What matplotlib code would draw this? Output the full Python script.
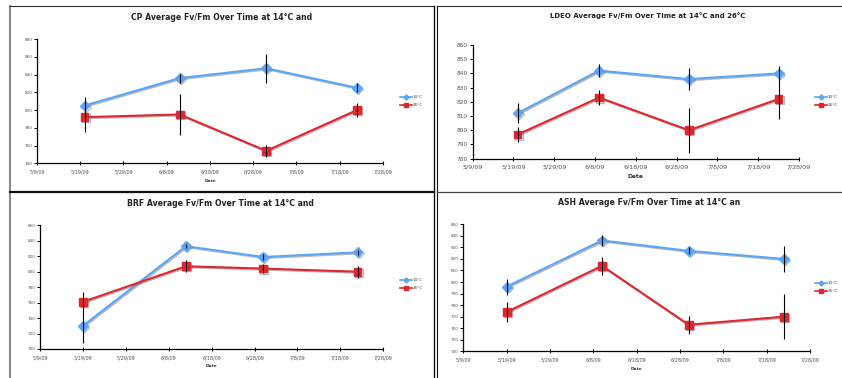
#!/usr/bin/env python3
"""Four Excel-style panels: average Fv/Fm over time at 14°C and 26°C."""

from datetime import datetime

import matplotlib
matplotlib.use("Agg")
import matplotlib.pyplot as plt
import matplotlib.dates as mdates
import matplotlib.patheffects as pe
from matplotlib.lines import Line2D
from matplotlib.ticker import FuncFormatter, FixedLocator, MultipleLocator

W, H = 842, 378

BLUE = "#5aa6f6"
RED = "#e0262e"

TICK_DATES = ["2009-05-09", "2009-05-19", "2009-05-29", "2009-06-08", "2009-06-18",
              "2009-06-28", "2009-07-08", "2009-07-18", "2009-07-28"]

# CP
CP_DATES = ["2009-05-20", "2009-06-11", "2009-07-01", "2009-07-22"]
CP_14 = [805, 836, 847, 825]
CP_14_ERR = [10, 5, 16, 5]
CP_26 = [792, 795, 754, 800]
CP_26_ERR = [17, 23, 7, 8]

# LDEO
LDEO_DATES = ["2009-05-20", "2009-06-09", "2009-07-01", "2009-07-23"]
LDEO_14 = [812, 842, 836, 840]
LDEO_14_ERR = [7, 4.5, 8, 5]
LDEO_26 = [797, 823, 800, 822]
LDEO_26_ERR = [5, 5, 16, 14]

# BRF
BRF_DATES = ["2009-05-19", "2009-06-12", "2009-06-30", "2009-07-22"]
BRF_14 = [730, 833, 819, 825]
BRF_14_ERR = [22, 3, 4, 3]
BRF_26 = [761, 807, 804, 800]
BRF_26_ERR = [13, 8, 6, 8]

# ASH
ASH_DATES = ["2009-05-19", "2009-06-10", "2009-06-30", "2009-07-22"]
ASH_14 = [796, 836, 827, 820]
ASH_14_ERR = [7, 4.5, 3, 11]
ASH_26 = [774, 814, 763, 770]
ASH_26_ERR = [9, 7.5, 8, 19.5]


def _d(s):
    return datetime.fromisoformat(s)


def _rect(left, right, top, bottom):
    return [left / W, 1 - bottom / H, (right - left) / W, (bottom - top) / H]


def _fig_line(fig, xs, ys, color, lw):
    fig.add_artist(Line2D([x / W for x in xs], [1 - y / H for y in ys],
                          transform=fig.transFigure, color=color, linewidth=lw))


def draw_panel(fig, box, title, title_xy, title_size, dates, v14, e14, v26, e26,
               ylim, ystep, small, legend_xy):
    ax = fig.add_axes(_rect(*box))
    tick_fs = 4.2 if not small else 3.0
    date_fs = 4.6 if not small else 3.5
    xs = [_d(s) for s in dates]
    shadow = [pe.SimpleLineShadow(offset=(0.8, -0.8), shadow_color="#777777", alpha=0.5),
              pe.Normal()]

    ax.errorbar(xs, v14, yerr=e14, fmt="none", ecolor="black", elinewidth=0.8,
                capsize=0, zorder=3)
    ax.errorbar(xs, v26, yerr=e26, fmt="none", ecolor="black", elinewidth=0.8,
                capsize=0, zorder=3)
    ax.plot(xs, v14, color=BLUE, linewidth=1.5, marker="D", markersize=5.0,
            markeredgecolor=BLUE, path_effects=shadow, zorder=2, label="14°C")
    ax.plot(xs, v26, color=RED, linewidth=1.5, marker="s", markersize=5.6,
            markeredgecolor=RED, path_effects=shadow, zorder=2, label="26°C")

    ax.set_xlim(_d(TICK_DATES[0]), _d(TICK_DATES[-1]))
    ax.set_ylim(*ylim)
    ax.xaxis.set_major_locator(FixedLocator([mdates.date2num(_d(s)) for s in TICK_DATES]))
    ax.xaxis.set_major_formatter(FuncFormatter(
        lambda v, _: (lambda d: f"{d.month}/{d.day}/{d:%y}")(mdates.num2date(v))))
    ax.yaxis.set_major_locator(MultipleLocator(ystep))

    for side in ("top", "right"):
        ax.spines[side].set_visible(False)
    for side in ("left", "bottom"):
        ax.spines[side].set_linewidth(0.9)
    ax.tick_params(axis="y", direction="out", length=2, width=0.7, pad=1.5,
                   labelsize=tick_fs, labelcolor="#555555")
    ax.tick_params(axis="x", direction="inout", length=3, width=0.7, pad=3,
                   labelsize=date_fs, labelcolor="#555555")
    ax.set_xlabel("Date", fontsize=date_fs - 0.3, fontweight="bold",
                  color="#333333", labelpad=3)

    fig.text(title_xy[0] / W, 1 - title_xy[1] / H, title, fontsize=title_size,
             fontweight="bold", color="#222222", ha="center", va="center")

    # small legend to the right of the plot
    lx, ly = legend_xy
    for i, (c, m, ms, lab) in enumerate([(BLUE, "D", 2.6, "14°C"), (RED, "s", 3.2, "26°C")]):
        y = ly + i * 8
        fig.add_artist(Line2D([lx / W, (lx + 12) / W], [1 - y / H, 1 - y / H],
                              transform=fig.transFigure, color=c, linewidth=1.2))
        fig.add_artist(Line2D([(lx + 6) / W], [1 - y / H], transform=fig.transFigure,
                              color=c, marker=m, markersize=ms, linestyle="none"))
        fig.text((lx + 13) / W, 1 - y / H, lab, fontsize=3.0, color="#444444",
                 ha="left", va="center")
    return ax


def main():
    fig = plt.figure(figsize=(W / 100, H / 100), dpi=100)
    fig.patch.set_facecolor("white")

    draw_panel(fig, (37, 383, 39, 163.3), "CP Average Fv/Fm Over Time at 14°C and",
               (222, 17), 5.6, CP_DATES, CP_14, CP_14_ERR, CP_26, CP_26_ERR,
               (740, 880), 20, True, (400, 97))
    draw_panel(fig, (472.7, 799, 45, 158.7), "LDEO Average Fv/Fm Over Time at 14°C and 26°C",
               (648, 15.7), 5.0, LDEO_DATES, LDEO_14, LDEO_14_ERR, LDEO_26, LDEO_26_ERR,
               (780, 860), 10, False, (815, 97))
    draw_panel(fig, (40, 383.3, 225.3, 349), "BRF Average Fv/Fm Over Time at 14°C and",
               (220, 203.7), 5.6, BRF_DATES, BRF_14, BRF_14_ERR, BRF_26, BRF_26_ERR,
               (700, 860), 20, True, (400, 280))
    draw_panel(fig, (463.3, 810, 224.3, 351.3), "ASH Average Fv/Fm Over Time at 14°C an",
               (649, 202.7), 5.6, ASH_DATES, ASH_14, ASH_14_ERR, ASH_26, ASH_26_ERR,
               (740, 850), 10, True, (815, 283))

    # panel frames from the screenshot
    _fig_line(fig, [10, 10], [6, 378], "#8a8a8a", 1.5)
    _fig_line(fig, [10, 434], [6, 6], "#333333", 0.8)
    _fig_line(fig, [436.5, 842], [6, 6], "#333333", 0.8)
    _fig_line(fig, [434, 434], [6, 378], "#111111", 1.0)
    _fig_line(fig, [436.5, 436.5], [6, 378], "#111111", 0.8)
    _fig_line(fig, [10, 434], [192, 192], "#111111", 1.6)
    _fig_line(fig, [436.5, 842], [192, 192], "#444444", 0.9)

    fig.savefig("out.png", dpi=100)


if __name__ == "__main__":
    main()
